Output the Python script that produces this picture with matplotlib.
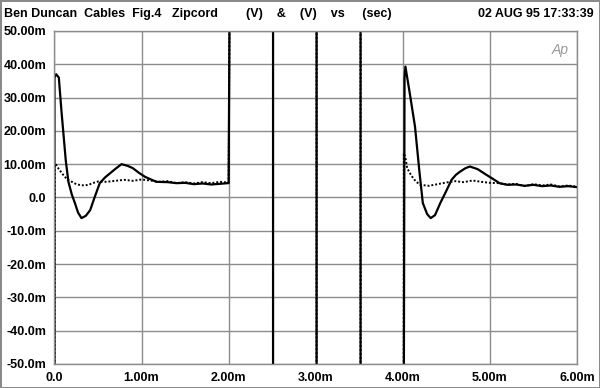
import matplotlib
matplotlib.use("Agg")
import matplotlib.pyplot as plt

# ---- data (time in ms, amplitude in mV) ----
solid_t = [0.0, 0.0, 0.02, 0.05, 0.08, 0.10, 0.13, 0.16, 0.20, 0.235, 0.27, 0.31,
           0.36, 0.41, 0.46, 0.52, 0.58, 0.64, 0.70,
           0.77, 0.84, 0.90, 0.97, 1.04, 1.17, 1.3, 1.4, 1.5, 1.6, 1.7, 1.8, 1.9, 1.99,
           2.0, 2.015, 2.51, 2.51, 3.01, 3.01, 3.515, 3.515, 4.01,
           4.02, 4.03, 4.08, 4.14, 4.19, 4.23, 4.28, 4.32, 4.37, 4.43, 4.50, 4.56,
           4.61, 4.66, 4.72, 4.77, 4.86,
           4.96, 5.04, 5.11, 5.2, 5.3, 5.4, 5.5, 5.6, 5.7, 5.8, 5.9, 6.0]
solid_v = [-80, 36, 37, 36, 26, 20, 11, 4.7, 0.8, -1.7, -4.5, -6.2,
           -5.5, -3.8, 0.0, 4.3, 6.0, 7.3, 8.6,
           10.0, 9.5, 8.8, 7.4, 6.2, 4.7, 4.6, 4.3, 4.4, 4.0, 4.2, 3.9, 4.1, 4.3,
           4.3, 80, 80, -80, -80, 80, 80, -80, -80,
           36, 39.3, 31.3, 21.3, 8.0, -1.7, -5.0, -6.2, -5.3, -1.7, 2.0, 5.3,
           6.8, 7.8, 8.8, 9.3, 8.5,
           6.8, 5.5, 4.3, 3.8, 3.9, 3.5, 3.8, 3.4, 3.6, 3.2, 3.4, 3.1]

dot_t = [0.0, 0.005, 0.02, 0.05, 0.1, 0.15, 0.2, 0.25, 0.3, 0.35, 0.4, 0.45,
         0.5, 0.6, 0.7, 0.8, 0.9, 1.0, 1.1, 1.2, 1.3, 1.4, 1.5, 1.6, 1.7,
         1.8, 1.9, 1.99,
         2.0, 2.015, 2.51, 2.51, 3.01, 3.01, 3.515, 3.515, 4.01,
         4.012, 4.03, 4.05, 4.1, 4.15, 4.2, 4.3, 4.4, 4.5, 4.6, 4.7, 4.8,
         4.9, 5.0, 5.1, 5.2, 5.3, 5.4, 5.5, 5.6, 5.7, 5.8, 5.9, 6.0]
dot_v = [-80, 10.0, 9.8, 8.5, 6.8, 5.3, 4.7, 4.0, 3.7, 3.6, 3.9, 4.4,
         4.8, 4.7, 5.0, 5.3, 5.0, 5.4, 5.1, 4.7, 4.9, 4.3, 4.6, 4.2, 4.6,
         4.3, 4.7, 4.5,
         4.5, 80, 80, -80, -80, 80, 80, -80, -80,
         13.3, 12.0, 8.8, 6.5, 4.8, 3.8, 3.5, 4.0, 4.5, 4.9, 4.6, 5.1,
         4.7, 4.4, 4.3, 3.9, 4.1, 3.4, 4.0, 3.6, 3.9, 3.3, 3.6, 3.2]

x_ticks = [0, 1, 2, 3, 4, 5, 6]
x_labels = ["0.0", "1.00m", "2.00m", "3.00m", "4.00m", "5.00m", "6.00m"]
y_ticks = [50, 40, 30, 20, 10, 0, -10, -20, -30, -40, -50]
y_labels = ["50.00m", "40.00m", "30.00m", "20.00m", "10.00m", "0.0",
            "-10.0m", "-20.0m", "-30.0m", "-40.0m", "-50.0m"]

plt.rcParams['font.family'] = ['Liberation Sans', 'DejaVu Sans']

fig = plt.figure(figsize=(6.0, 3.88), dpi=100)
fig.patch.set_facecolor('white')
fig.patch.set_edgecolor('#8a8a8a')
fig.patch.set_linewidth(2.0)

ax = fig.add_axes([0.0908, 0.0619, 0.8708, 0.8583])
ax.set_xlim(0, 6)
ax.set_ylim(-50, 50)
ax.set_xticks(x_ticks)
ax.set_xticklabels(x_labels, fontsize=9, fontweight='bold')
ax.set_yticks(y_ticks)
ax.set_yticklabels(y_labels, fontsize=9, fontweight='bold')
ax.tick_params(length=0, pad=6)
ax.grid(True, color='#8c8c8c', linewidth=1.0)
ax.set_axisbelow(True)
for s in ax.spines.values():
    s.set_color('#8c8c8c')
    s.set_linewidth(1.0)

ax.plot(dot_t, dot_v, color='black', linestyle=(0, (1, 1)), linewidth=1.4)
ax.plot(solid_t, solid_v, color='black', linestyle='-', linewidth=1.6)

ax.text(0.985, 0.965, "Ap", transform=ax.transAxes, ha='right', va='top',
        fontsize=10, color='#9a9a9a', style='italic', fontweight='light')

fig.text(4/600, 1 - 14/388, "Ben Duncan  Cables  Fig.4   Zipcord", fontsize=9,
         fontweight='bold', ha='left', va='center')
fig.text(246/600, 1 - 14/388, "(V)    &    (V)    vs     (sec)", fontsize=9,
         fontweight='bold', ha='left', va='center')
fig.text(594/600, 1 - 14/388, "02 AUG 95 17:33:39", fontsize=9,
         fontweight='bold', ha='right', va='center')

fig.savefig("out.png", dpi=100, facecolor='white', edgecolor='#8a8a8a')
